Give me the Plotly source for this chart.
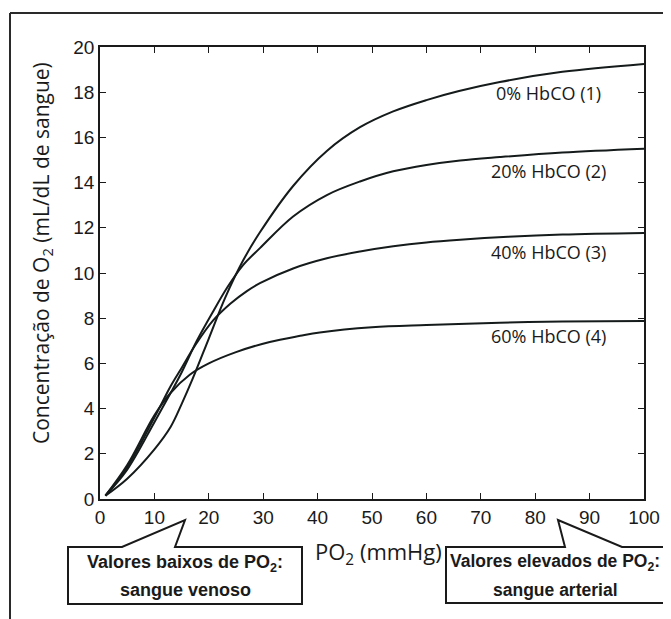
import plotly.graph_objects as go

# PO2 (mmHg) and O2 concentration (mL/dL) for each HbCO level
x_0 = [1, 5, 10, 13, 15, 17, 20, 23, 26.3, 29.4, 35.5, 41.7, 47.8, 53.9, 60, 66, 73.5, 85, 100]
y_0 = [0.15, 0.9, 2.2, 3.2, 4.2, 5.3, 7.1, 8.9, 10.55, 11.8, 13.85, 15.4, 16.45, 17.15, 17.65, 18.05, 18.45, 18.9, 19.25]

x_20 = [1, 5, 10, 13, 15, 17.8, 20.8, 23.5, 26.3, 29.4, 35.5, 41.7, 47.8, 53.9, 60, 66.2, 73.5, 85, 100]
y_20 = [0.15, 1.3, 3.4, 4.7, 5.6, 7.0, 8.3, 9.4, 10.35, 11.1, 12.5, 13.45, 14.05, 14.5, 14.78, 14.98, 15.13, 15.33, 15.5]

x_40 = [1, 5, 10, 13, 15, 17.5, 20.8, 24, 27, 29.4, 35.5, 41.7, 47.8, 53.9, 60, 66.2, 75, 85, 100]
y_40 = [0.15, 1.4, 3.6, 5.0, 5.8, 6.8, 7.9, 8.65, 9.2, 9.55, 10.2, 10.65, 10.95, 11.18, 11.35, 11.47, 11.6, 11.7, 11.77]

x_60 = [1, 5, 10, 13, 16.5, 20, 25, 31.2, 36.8, 40.4, 50, 60, 73.5, 85, 100]
y_60 = [0.15, 1.5, 3.7, 4.7, 5.5, 6.0, 6.5, 6.95, 7.22, 7.37, 7.6, 7.7, 7.8, 7.85, 7.88]

series_labels = ["0% HbCO (1)", "20% HbCO (2)", "40% HbCO (3)", "60% HbCO (4)"]
label_x = [82.4, 82.4, 82.4, 82.4]
label_y = [17.98, 14.53, 10.94, 7.21]

x_ticks = [0, 10, 20, 30, 40, 50, 60, 70, 80, 90, 100]
y_ticks = [0, 2, 4, 6, 8, 10, 12, 14, 16, 18, 20]

# page has an 8px body margin: the figure is placed at (8, 8) in the screenshot
OFF = 8
SW, SH = 671, 619                    # screenshot size
PL, PR, PT, PB = 100, 644, 47, 499   # plot area in screenshot pixels
W, H = SW - OFF, SH - OFF
L, R, T, B = PL - OFF, SW - PR, PT - OFF, SH - PB


def px(xp):
    return (xp - PL) / (PR - PL)


def py(yp):
    return (PB - yp) / (PB - PT)


fig = go.Figure()
for xs, ys in [(x_0, y_0), (x_20, y_20), (x_40, y_40), (x_60, y_60)]:
    fig.add_trace(go.Scatter(x=xs, y=ys, mode="lines",
                             line=dict(color="#151a1a", width=2, shape="spline", smoothing=1.0),
                             showlegend=False, hoverinfo="skip"))

annotations = []
for t, lx, ly in zip(series_labels, label_x, label_y):
    annotations.append(dict(x=lx, y=ly, xref="x", yref="y", text=t, showarrow=False,
                            xanchor="center", yanchor="middle",
                            font=dict(family="Open Sans", size=18, color="#1a1a1a")))

# axis titles
annotations.append(dict(x=px(378), y=py(553), xref="paper", yref="paper",
                        text="PO<sub>2</sub> (mmHg)", showarrow=False,
                        xanchor="center", yanchor="middle",
                        font=dict(family="Open Sans", size=22, color="#1a1a1a")))
annotations.append(dict(x=px(42), y=py(253), xref="paper", yref="paper", textangle=-90,
                        text="Concentração de O<sub>2</sub> (mL/dL de sangue)", showarrow=False,
                        xanchor="center", yanchor="middle",
                        font=dict(family="Open Sans", size=21, color="#1a1a1a")))

# callout texts
for t, cx, cy, fs in [("Valores baixos de PO<sub>2</sub>:", 185, 563, 18),
                      ("sangue venoso", 185, 590, 18),
                      ("Valores elevados de PO<sub>2</sub>:", 555, 562, 17.5),
                      ("sangue arterial", 555, 590, 17.5)]:
    annotations.append(dict(x=px(cx), y=py(cy), xref="paper", yref="paper",
                            text="<b>" + t + "</b>", showarrow=False,
                            xanchor="center", yanchor="middle",
                            font=dict(family="Liberation Sans", size=fs, color="#1a1a1a")))


def path(points):
    return "M " + " L ".join(f"{px(a):.5f},{py(b):.5f}" for a, b in points) + " Z"


shapes = [
    dict(type="path", xref="paper", yref="paper",
         path=path([(68, 547), (122, 547), (185, 520), (175, 547), (302, 547), (302, 604), (68, 604)]),
         line=dict(color="#1a1a1a", width=2), fillcolor="white", layer="below"),
    dict(type="path", xref="paper", yref="paper",
         path=path([(446, 547), (565, 547), (558, 520), (622, 547), (668, 547), (668, 603), (446, 603)]),
         line=dict(color="#1a1a1a", width=2), fillcolor="white", layer="below"),
    # outer frame (left and top edges)
    dict(type="line", xref="paper", yref="paper", x0=px(10), y0=py(13), x1=px(10), y1=py(619),
         line=dict(color="#2a2a2a", width=2)),
    dict(type="line", xref="paper", yref="paper", x0=px(10), y0=py(13), x1=px(680), y1=py(13),
         line=dict(color="#2a2a2a", width=2)),
]

axis_common = dict(showline=True, mirror="ticks", linecolor="#1a1a1a", linewidth=1.5,
                   ticks="inside", ticklen=6, tickwidth=1.2, tickcolor="#1a1a1a",
                   showgrid=False, zeroline=False,
                   tickfont=dict(family="Liberation Sans", size=19, color="#1a1a1a"))

fig.update_layout(
    width=W, height=H, margin=dict(l=L, r=R, t=T, b=B),
    paper_bgcolor="white", plot_bgcolor="rgba(0,0,0,0)",
    xaxis=dict(range=[0, 100], tickvals=x_ticks, ticktext=[str(v) for v in x_ticks], **axis_common),
    yaxis=dict(range=[0, 20], tickvals=y_ticks, ticktext=[str(v) for v in y_ticks], **axis_common),
    annotations=annotations, shapes=shapes,
)

fig.write_html("out.html")
